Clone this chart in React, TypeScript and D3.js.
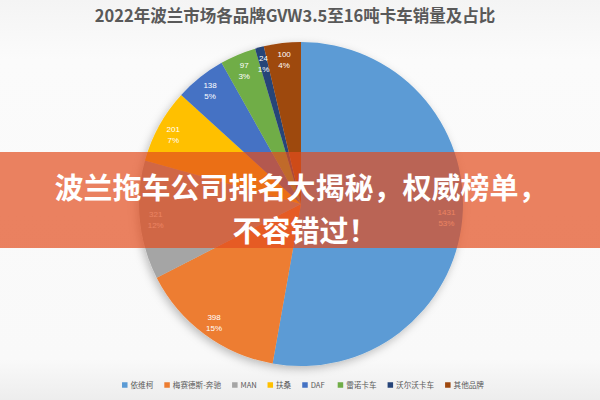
import React from "react";
import * as d3 from "d3";

const brands = ["依维柯", "梅赛德斯-奔驰", "MAN", "扶桑", "DAF", "雷诺卡车", "沃尔沃卡车", "其他品牌"];
const sales = [1431, 398, 321, 201, 138, 97, 24, 100];
const shares = ["53%", "15%", "12%", "7%", "5%", "3%", "1%", "4%"];
const colors = ["#5B9BD5", "#ED7D31", "#A5A5A5", "#FFC000", "#4472C4", "#70AD47", "#264478", "#9E480E"];
const title = "2022年波兰市场各品牌GVW3.5至16吨卡车销量及占比";
const bannerLines = ["波兰拖车公司排名大揭秘，权威榜单，", "不容错过！"];

const W = 600;
const H = 400;
const cx = 301;
const cy = 204;
const R = 162;
const labelR = 146;

function textWidth(s: string, fs: number) {
  let w = 0;
  for (const ch of s) {
    if (/[\u3000-\u9fff\uff00-\uffef]/.test(ch)) w += fs;
    else if (ch === "-") w += fs * 0.35;
    else w += fs * 0.7;
  }
  return w;
}

export default function App() {
  const pie = d3
    .pie<number>()
    .sort(null)
    .value((d) => d)
    .startAngle(0)
    .endAngle(2 * Math.PI);
  const arcs = pie(sales);
  const arc = d3.arc<d3.PieArcDatum<number>>().innerRadius(0).outerRadius(R);
  const labelArc = d3.arc<d3.PieArcDatum<number>>().innerRadius(labelR).outerRadius(labelR);

  const legendFs = 7.6;
  const sq = 5.5;
  const gapSq = 3;
  const gapItem = 11;
  const widths = brands.map((b) => sq + gapSq + textWidth(b, legendFs));
  const total = d3.sum(widths) + gapItem * (brands.length - 1);
  let lx = 303 - total / 2;
  const legendItems = brands.map((b, i) => {
    const x = lx;
    lx += widths[i] + gapItem;
    return { b, x, c: colors[i] };
  });
  const ly = 386;

  return (
    <div style={{ position: "fixed", left: 0, top: 0, width: W, height: H }}>
      <svg width={W} height={H} viewBox={`0 0 ${W} ${H}`} style={{ display: "block" }}>
        <defs>
          <linearGradient id="bg" x1="0" y1="0" x2="0" y2="1">
            <stop offset="0" stopColor="#F4F4F4" />
            <stop offset="0.15" stopColor="#FBFBFB" />
            <stop offset="0.9" stopColor="#F9F9F9" />
            <stop offset="1" stopColor="#EDEDED" />
          </linearGradient>
          <filter id="shadow" x="-20%" y="-20%" width="140%" height="140%">
            <feDropShadow dx="-2" dy="3" stdDeviation="4" floodColor="#000" floodOpacity="0.25" />
          </filter>
        </defs>
        <rect x={0} y={0} width={W} height={H} fill="url(#bg)" />
        <g transform={`translate(${cx},${cy})`} filter="url(#shadow)">
          {arcs.map((a, i) => (
            <path key={i} d={arc(a) || ""} fill={colors[i]} />
          ))}
        </g>
        <g transform={`translate(${cx},${cy})`} fontFamily="'Liberation Sans', 'Noto Sans', sans-serif" fontSize={8} fill="#FFFFFF">
          {arcs.map((a, i) => {
            const [x, y] = labelArc.centroid(a);
            return (
              <text key={i} x={x} y={y} textAnchor="middle">
                <tspan x={x} dy={-1.5}>{sales[i]}</tspan>
                <tspan x={x} dy={11}>{shares[i]}</tspan>
              </text>
            );
          })}
        </g>
        <text
          x={W / 2 - 5}
          y={22}
          textAnchor="middle"
          fontFamily="'Noto Sans CJK SC', sans-serif"
          fontWeight="bold"
          fontSize={16.5}
          fill="#595959"
        >
          {title}
        </text>
        <g fontFamily="'Noto Sans CJK SC', sans-serif" fontSize={legendFs} fill="#595959">
          {legendItems.map((it, i) => (
            <g key={i}>
              <rect x={it.x} y={ly - sq / 2 - 1} width={sq} height={sq} fill={it.c} />
              <text x={it.x + sq + gapSq} y={ly + 2}>{it.b}</text>
            </g>
          ))}
        </g>
        <rect x={0} y={152} width={W} height={96} fill="#E24D1E" fillOpacity={0.7} />
        <g fontFamily="'Noto Sans CJK SC', sans-serif" fontWeight="bold" fontSize={29} fill="#FFFFFF" textAnchor="middle">
          <text x={W / 2 + 1} y={199}>{bannerLines[0]}</text>
          <text x={W / 2 + 5} y={242}>{bannerLines[1]}</text>
        </g>
      </svg>
    </div>
  );
}
